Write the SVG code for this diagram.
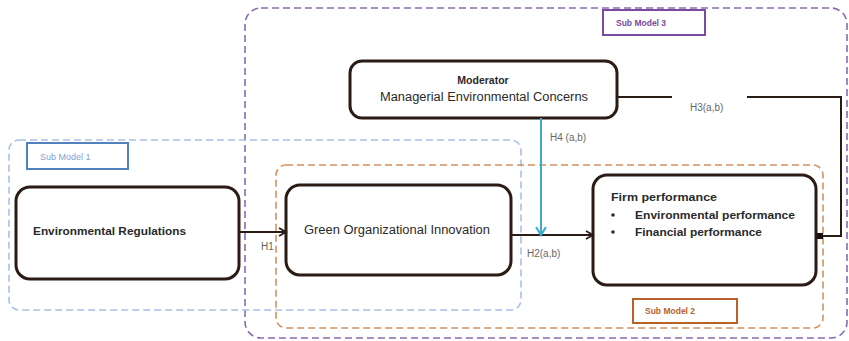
<svg xmlns="http://www.w3.org/2000/svg" width="849" height="341" viewBox="0 0 849 341">
<style>
.cont{fill:none;stroke-width:1.6;stroke-dasharray:7 4}
.node{fill:#fff;stroke:#2b1b15;stroke-width:3}
.t{font-family:"Liberation Sans",Arial,sans-serif;fill:#2a2a2a}
.b{font-weight:bold}
.lab{font-family:"Liberation Sans",Arial,sans-serif;font-size:10px;fill:#666}
.conn{fill:none;stroke:#2b1b15;stroke-width:2}
</style>
<defs>
<marker id="arr" markerWidth="10" markerHeight="10" refX="8" refY="5" orient="auto" markerUnits="userSpaceOnUse">
<path d="M1,1 L8,5 L1,9" fill="none" stroke="#2b1b15" stroke-width="1.8"/>
</marker>
<marker id="arrb" markerWidth="12" markerHeight="12" refX="9" refY="6" orient="auto" markerUnits="userSpaceOnUse">
<path d="M1,1 L9,6 L1,11" fill="none" stroke="#3aaad0" stroke-width="2"/>
</marker>
<marker id="sq" markerWidth="6" markerHeight="6" refX="3" refY="3" orient="auto" markerUnits="userSpaceOnUse">
<rect x="0" y="0" width="6" height="6" fill="#1a1010"/>
</marker>
</defs>
<g id="submodel3">
<rect class="cont" x="245" y="8" width="602" height="330" rx="16" stroke="#8a6ab0"/>
<rect x="603" y="10" width="102" height="25" fill="#fff" stroke="#7a4ba0" stroke-width="2"/>
<text class="t b" x="616" y="26" font-size="8.5" style="fill:#7a4ba0">Sub Model 3</text>
</g>
<g id="submodel1">
<rect class="cont" x="9" y="140" width="512" height="170" rx="10" stroke="#a9c0e4"/>
<rect x="27" y="143" width="101" height="26" fill="#fff" stroke="#4f81bd" stroke-width="2"/>
<text class="t" x="40" y="160" font-size="9" style="fill:#7f9fd0">Sub Model 1</text>
</g>
<g id="submodel2">
<rect class="cont" x="276" y="165" width="547" height="163" rx="10" stroke="#d4905e"/>
<rect x="633" y="299" width="104" height="24" fill="#fff" stroke="#b8622a" stroke-width="2"/>
<text class="t b" x="645" y="314" font-size="8.5" style="fill:#b8622a">Sub Model 2</text>
</g>
<g id="moderator">
<rect class="node" x="350" y="61" width="267" height="57" rx="12"/>
<text class="t b" x="483" y="84" font-size="10.5" text-anchor="middle">Moderator</text>
<text class="t" x="484" y="101" font-size="12" text-anchor="middle" textLength="208" lengthAdjust="spacingAndGlyphs">Managerial Environmental Concerns</text>
</g>
<g id="env-regulations">
<rect class="node" x="16" y="187" width="223" height="92" rx="14"/>
<text class="t b" x="33" y="235" font-size="11" textLength="153" lengthAdjust="spacingAndGlyphs">Environmental Regulations</text>
</g>
<g id="green-innovation">
<rect class="node" x="286" y="185" width="225" height="90" rx="14"/>
<text class="t" x="304" y="234" font-size="12.5" textLength="186" lengthAdjust="spacingAndGlyphs">Green Organizational Innovation</text>
</g>
<g id="firm-performance">
<rect class="node" x="593" y="175" width="223" height="110" rx="14"/>
<text class="t b" x="611" y="201" font-size="10.5" textLength="106" lengthAdjust="spacingAndGlyphs">Firm performance</text>
<circle cx="613" cy="215" r="1.8" fill="#2a2a2a"/>
<text class="t b" x="635" y="219" font-size="11" textLength="160" lengthAdjust="spacingAndGlyphs">Environmental performance</text>
<circle cx="613" cy="232" r="1.8" fill="#2a2a2a"/>
<text class="t b" x="635" y="236" font-size="11" textLength="127" lengthAdjust="spacingAndGlyphs">Financial performance</text>
</g>
<g id="connectors">
<line class="conn" x1="239" y1="232" x2="286" y2="232" marker-end="url(#arr)"/>
<line class="conn" x1="511" y1="235" x2="593" y2="235" marker-end="url(#arr)"/>
<line x1="541" y1="118" x2="541" y2="235" stroke="#3aaad0" stroke-width="2" marker-end="url(#arrb)"/>
<line class="conn" x1="617" y1="97" x2="672" y2="97"/>
<polyline class="conn" points="747,97 841,97 841,236 820,236" marker-end="url(#sq)"/>
<text class="lab" x="261" y="250">H1</text>
<text class="lab" x="527" y="257">H2(a,b)</text>
<text class="lab" x="550" y="141">H4 (a,b)</text>
<text class="lab" x="690" y="111">H3(a,b)</text>
</g>
</svg>
